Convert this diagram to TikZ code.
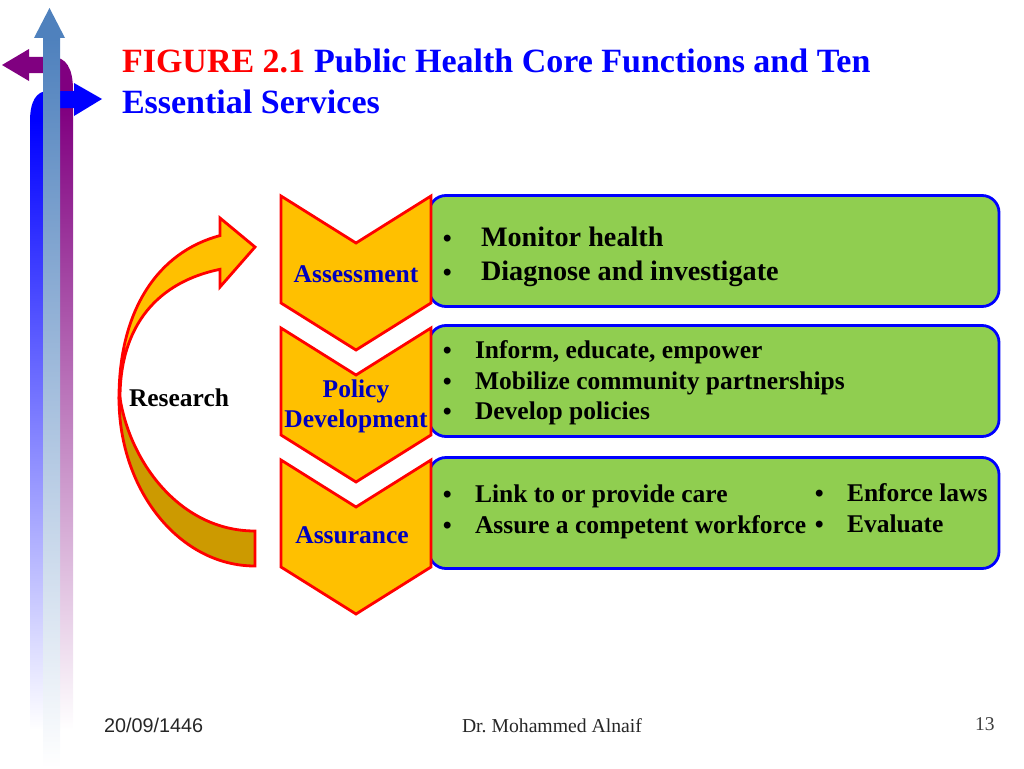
\documentclass[tikz,border=0pt]{standalone}
\usepackage{fontspec}
\setmainfont{Liberation Serif}
\newfontfamily\datefont{Liberation Sans}
\newcommand{\itemdot}[1]{\makebox[#1][l]{\datefont\fontsize{24}{24}\selectfont\textbullet}}

\begin{document}
\begin{tikzpicture}[x=1pt, y=-1pt, every node/.style={inner sep=0pt, outer sep=0pt}]
  % Colors
  \definecolor{chevfill}{RGB}{255,192,0}
  \definecolor{chevback}{RGB}{204,154,0}
  \definecolor{boxfill}{RGB}{144,206,80}
  \definecolor{bandpurple}{RGB}{128,0,128}
  \definecolor{bandsteel}{RGB}{79,129,189}
  \definecolor{labelblue}{RGB}{0,0,190}
  \tikzset{
    chevron/.style={draw=red, fill=chevfill, line width=2.8pt, line join=miter},
    infobox/.style={draw=blue, fill=boxfill, line width=2.8pt, rounded corners=17pt,
      minimum width=570pt, minimum height=111pt},
    chevlabel/.style={font=\bfseries\fontsize{25.5}{30}\selectfont, text=labelblue, align=center},
    itembig/.style={font=\bfseries\fontsize{28.2}{32}\selectfont, anchor=base west},
    itemsmall/.style={font=\bfseries\fontsize{25.5}{30}\selectfont, anchor=base west},
    titletext/.style={font=\bfseries\fontsize{34}{40}\selectfont, anchor=base west}
  }
  \useasboundingbox (0,0) rectangle (1024,768);

  % Left bands
  \shade[top color=bandpurple, middle color=bandpurple!35!white, bottom color=white] (60,108) rectangle (73,730);
  \fill[bandpurple] (73,108) -- (73,90) .. controls (73,68) and (66,57) .. (52,57)
    -- (29,57) -- (29,49) -- (2,65) -- (29,81) -- (29,73) -- (60,73) -- (60,108) -- cycle;
  \shade[top color=blue, middle color=blue!35!white, bottom color=white] (30,120) rectangle (43,730);
  \fill[blue] (30,121) .. controls (30,102) and (36,91) .. (48,91) -- (74,91) -- (74,83)
    -- (102,99) -- (74,116) -- (74,108) -- (43,108) -- (43,121) -- cycle;
  \shade[top color=bandsteel, middle color=bandsteel!35!white, bottom color=white] (43,38) rectangle (60,768);
  \fill[bandsteel] (49.5,8) -- (65,38) -- (34,38) -- cycle;

  % Title
  \node[titletext, text=red] (figtag) at (122,72) {FIGURE 2.1};
  \node[titletext, text=blue, anchor=base west] (titleone) at (314,72) {Public Health Core Functions and Ten};
  \node[titletext, text=blue] (titletwo) at (122,113) {Essential Services};

  % Research arrow
  \draw[chevron, fill=chevback] (119,398) .. controls (119,491) and (180,566) .. (255,566)
    -- (255,531) .. controls (180,531) and (130,462) .. (120,398) -- cycle;
  \draw[chevron] (119,398) .. controls (119,310) and (158,252) .. (220,235.6) -- (220,218)
    -- (255,247) -- (220,287) -- (220,269.3) .. controls (158,282) and (120,325) .. (120,398) -- cycle;
  \node[font=\bfseries\fontsize{25.5}{30}\selectfont, anchor=base west] (research) at (129,406) {Research};

  % Green boxes
  \node[infobox] (monitorbox) at (714,251) {};
  \node[infobox] (informbox) at (714,381) {};
  \node[infobox] (linkbox) at (714,513) {};

  % Chevrons
  \foreach \name/\y in {assess/0, policy/132, assure/264} {
    \draw[chevron] (281,196+\y) -- (356,243+\y) -- (431,196+\y) -- (431,303+\y)
      -- (356,350+\y) -- (281,303+\y) -- cycle;
    \coordinate (\name) at (356,243+\y);
  }
  \node[chevlabel, anchor=base] (assesslabel) at (356,282) {Assessment};
  \node[chevlabel, anchor=base] (policylabel) at (356,397) {Policy};
  \node[chevlabel, anchor=base] (devlabel) at (356,427) {Development};
  \node[chevlabel, anchor=base] (assurelabel) at (352,543) {Assurance};

  % Box items
  \node[itembig] (monitor) at (443,246) {\itemdot{38pt}Monitor health};
  \node[itembig] (diagnose) at (443,280) {\itemdot{38pt}Diagnose and investigate};
  \node[itemsmall] (inform) at (443,358) {\itemdot{32pt}Inform, educate, empower};
  \node[itemsmall] (mobilize) at (443,389) {\itemdot{32pt}Mobilize community partnerships};
  \node[itemsmall] (develop) at (443,419) {\itemdot{32pt}Develop policies};
  \node[itemsmall] (linkcare) at (443,502) {\itemdot{32pt}Link to or provide care};
  \node[itemsmall] (workforce) at (443,533) {\itemdot{32pt}Assure a competent workforce};
  \node[itemsmall] (enforce) at (815,501) {\itemdot{32pt}Enforce laws};
  \node[itemsmall] (evaluate) at (815,532) {\itemdot{32pt}Evaluate};

  % Footer
  \node[font=\datefont\fontsize{19.8}{23}\selectfont, anchor=base west, text=black!85] (datetag) at (104,732) {20/09/1446};
  \node[font=\fontsize{19.7}{23}\selectfont, anchor=base west, text=black!85] (authortag) at (462,732) {Dr.\ Mohammed Alnaif};
  \node[font=\fontsize{19.5}{23}\selectfont, anchor=base west, text=black!75] (pagenum) at (975,730) {13};
\end{tikzpicture}
\end{document}
